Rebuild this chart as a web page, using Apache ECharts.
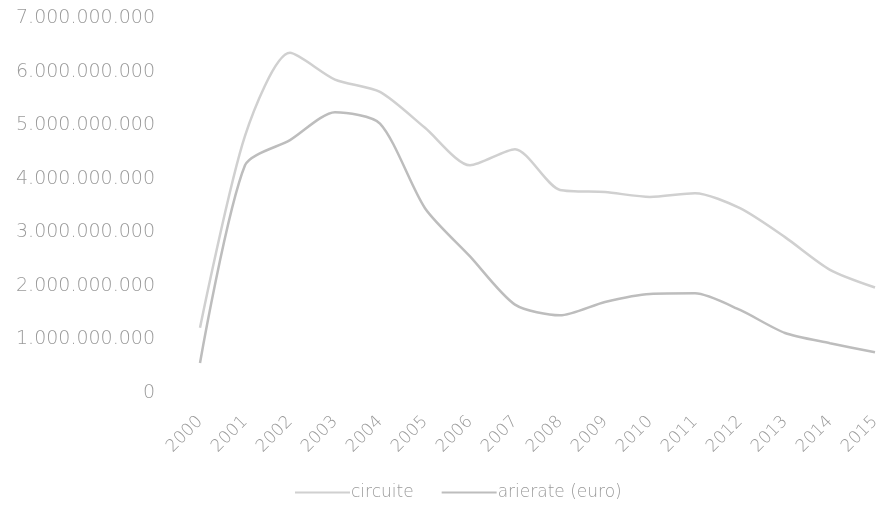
<!DOCTYPE html>
<html>
<head>
<meta charset="utf-8">
<script src="https://cdn.jsdelivr.net/npm/echarts@6/dist/echarts.min.js"></script>
<style>html,body{margin:0;padding:0;background:#fff}#c{width:888px;height:513px}</style>
</head>
<body>
<div id="c"></div>
<script>
const years = ['2000','2001','2002','2003','2004','2005','2006','2007','2008','2009','2010','2011','2012','2013','2014','2015'];
const circuite = [1.22e9, 4.8e9, 6.35e9, 5.85e9, 5.62e9, 4.95e9, 4.25e9, 4.55e9, 3.79e9, 3.75e9, 3.66e9, 3.73e9, 3.45e9, 2.91e9, 2.3e9, 1.97e9];
const arierate = [0.56e9, 4.25e9, 4.72e9, 5.24e9, 5.03e9, 3.45e9, 2.55e9, 1.65e9, 1.45e9, 1.7e9, 1.85e9, 1.86e9, 1.55e9, 1.12e9, 0.93e9, 0.76e9];
const names = ['circuite', 'arierate (euro)'];

function fmt(v){
  return String(Math.round(v)).replace(/\B(?=(\d{3})+(?!\d))/g, '.');
}
const FONT = 'DejaVu Sans';
const TXT = '#9a9a9a';
const chart = echarts.init(document.getElementById('c'));
chart.setOption({
  animation: false,
  textStyle: {fontFamily: FONT, fontWeight: 200},
  grid: {left: 200, right: 13, top: 18, bottom: 120},
  legend: {
    bottom: 7, left: 290, itemGap: 28, itemWidth: 55, itemHeight: 2,
    icon: 'rect',
    textStyle: {color: TXT, fontSize: 17, fontFamily: FONT, fontWeight: 200, padding: [0,0,0,-4]},
    data: names
  },
  xAxis: {
    type: 'category', data: years, boundaryGap: false,
    axisLine: {show: false}, axisTick: {show: false},
    axisLabel: {rotate: 45, color: TXT, fontSize: 17, fontWeight: 200, margin: 26, interval: 0}
  },
  yAxis: {
    type: 'value', min: 0, max: 7e9, interval: 1e9,
    splitLine: {show: false}, axisLine: {show: false}, axisTick: {show: false},
    axisLabel: {color: TXT, fontSize: 19, fontWeight: 200, margin: 45, formatter: fmt}
  },
  series: [
    {name: names[0], type: 'line', data: circuite, smooth: 0.25, symbol: 'none',
     lineStyle: {width: 2.5, color: '#d0d0d0'}, itemStyle: {color: '#d0d0d0'}},
    {name: names[1], type: 'line', data: arierate, smooth: 0.25, symbol: 'none',
     lineStyle: {width: 2.5, color: '#bdbdbd'}, itemStyle: {color: '#bdbdbd'}}
  ]
});
</script>
</body>
</html>
